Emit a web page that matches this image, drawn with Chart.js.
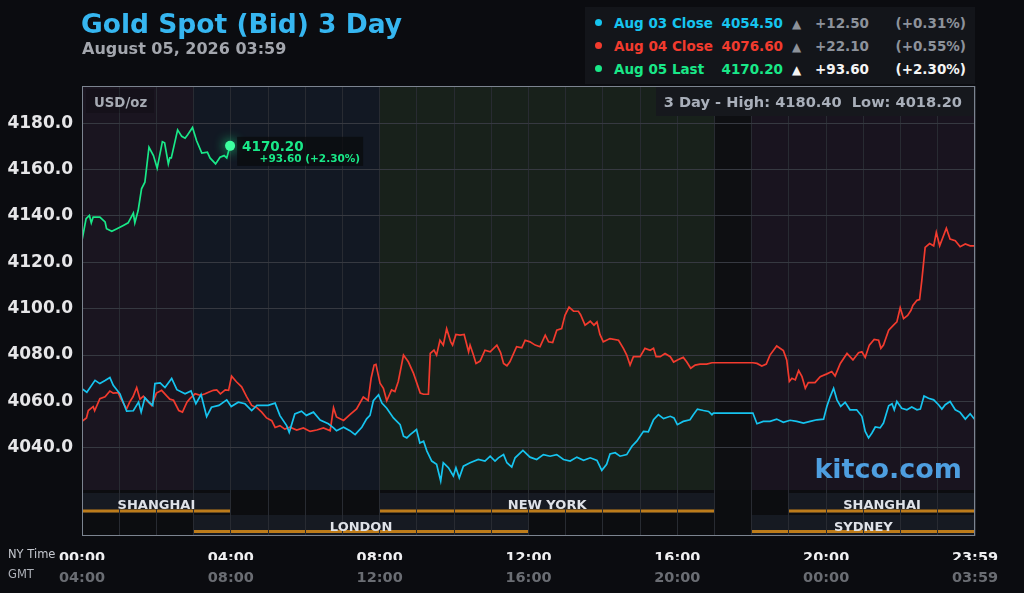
<!DOCTYPE html>
<html>
<head>
<meta charset="utf-8">
<script src="https://cdn.jsdelivr.net/npm/chart.js@4.4.1/dist/chart.umd.min.js"></script>
<style>
  html, body { margin: 0; padding: 0; background: #0b0c10; }
  body { width: 1024px; height: 593px; overflow: hidden; position: relative; font-family: "DejaVu Sans", sans-serif; }
  #chart { position: absolute; left: 0; top: 0; }
  .abs { position: absolute; white-space: nowrap; line-height: 1; }
  .title { left: 81px; top: 11px; font-size: 26.5px; font-weight: bold; color: #36b6f0; }
  .sub { left: 82px; top: 40.5px; font-size: 16px; font-weight: bold; color: #a3a6ad; }
  .legend { left: 585px; top: 7px; width: 390px; height: 77px; background: #13151a; }
  .row { font-size: 13.5px; font-weight: bold; }
  .dot { position: absolute; width: 7px; height: 7px; border-radius: 50%; }
  .axisname { font-size: 11.5px; color: #c5c8cf; left: 8px; }
</style>
</head>
<body>
<canvas id="chart" width="1024" height="593"></canvas>
<div class="abs title">Gold Spot (Bid) 3 Day</div>
<div class="abs sub">August 05, 2026 03:59</div>
<div class="abs legend"></div>
<div id="legendRows"></div>
<div class="abs axisname" style="top:549px">NY Time</div>
<div class="abs axisname" style="top:569px;color:#aeb1b8">GMT</div>

<script>
// ---- data ----
const seriesNames = ['Aug 03 Close', 'Aug 04 Close', 'Aug 05 Last'];
const seriesLast = ['4054.50', '4076.60', '4170.20'];
const seriesChange = ['+12.50', '+22.10', '+93.60'];
const seriesPct = ['(+0.31%)', '(+0.55%)', '(+2.30%)'];

const nyTickLabels = ['00:00', '04:00', '08:00', '12:00', '16:00', '20:00', '23:59'];
const gmtTickLabels = ['04:00', '08:00', '12:00', '16:00', '20:00', '00:00', '03:59'];
const yTicks = [4040, 4060, 4080, 4100, 4120, 4140, 4160, 4180];

const aug03Hours = [0, 0.13, 0.35, 0.48, 0.62, 0.75, 0.84, 1.02, 1.2, 1.38, 1.52, 1.59, 1.69, 1.8, 1.9, 1.96, 2.1, 2.23, 2.41, 2.55, 2.77, 2.93, 3.06, 3.2, 3.35, 3.48, 3.68, 3.89, 4.01, 4.2, 4.38, 4.56, 4.7, 4.87, 5.0, 5.19, 5.32, 5.5, 5.57, 5.72, 5.9, 6.03, 6.22, 6.4, 6.62, 6.76, 6.84, 7.03, 7.2, 7.34, 7.52, 7.65,
  7.74, 7.83, 7.97, 8.06, 8.19, 8.37, 8.55, 8.64, 8.73, 8.82, 8.99, 9.08, 9.18, 9.27, 9.4, 9.53, 9.64, 9.71, 9.85, 9.98, 10.05, 10.14, 10.25, 10.43, 10.65, 10.83, 10.97, 11.1, 11.19, 11.33, 11.42, 11.55, 11.64, 11.85, 12.04, 12.22, 12.4, 12.58, 12.76, 12.94, 13.12, 13.3, 13.48, 13.66, 13.84, 13.97, 14.1, 14.19, 14.33, 14.46, 14.64, 14.78, 14.91, 15.09, 15.22, 15.36, 15.49, 15.63,
  15.81, 15.91, 16.0, 16.16, 16.34, 16.43, 16.54, 16.7, 16.84, 16.93, 16.97, 18.03, 18.14, 18.31, 18.49, 18.67, 18.85, 19.03, 19.21, 19.39, 19.57, 19.75, 19.93, 20.02, 20.11, 20.2, 20.29, 20.39, 20.51, 20.64, 20.82, 20.96, 21.05, 21.14, 21.23, 21.32, 21.45, 21.54, 21.68, 21.77, 21.83, 21.9, 22.03, 22.17, 22.3, 22.44, 22.53, 22.63, 22.75, 22.89, 23.02, 23.11, 23.2, 23.33, 23.47, 23.6, 23.74, 23.87, 24];
const aug03Values = [4065.5, 4064, 4069.1, 4067.7, 4069, 4070.3, 4067, 4063.3, 4055.8, 4056, 4059.7, 4055.4, 4061.6, 4059.7, 4058.3, 4067.7, 4068, 4066, 4069.9, 4065.1, 4063.3, 4064.5, 4059, 4063, 4053.5, 4057.5, 4058.3, 4060.7, 4057.8, 4059.7, 4059, 4056.1, 4058.3, 4058.3, 4058.3, 4059.3, 4053.9, 4049.6, 4046.7, 4054.6, 4055.8, 4054, 4055.4, 4052, 4050.4, 4048.6, 4047.4, 4048.9, 4047.4, 4045.7, 4048.9, 4052.5,
  4054, 4060.3, 4062.9, 4059.3, 4057.1, 4052.9, 4050, 4045, 4044.3, 4045.7, 4047.9, 4042.1, 4042.9, 4038.6, 4034.3, 4032.9, 4025.7, 4033.6, 4031.4, 4027.9, 4031.4, 4027.1, 4032.1, 4033.6, 4035, 4034.3, 4036.4, 4034.3, 4035.7, 4037.1, 4033.6, 4031.7, 4035.7, 4038.9, 4036, 4035, 4037.1, 4036.4, 4037.1, 4035, 4034.3, 4036, 4034.6, 4035.7, 4034.6, 4030.3, 4032.9, 4037.4, 4037.9, 4036.4, 4037.1, 4040.7, 4042.9, 4047.1, 4046.9, 4052.1, 4054.3, 4052.6,
  4053.6, 4052.9, 4050, 4051.4, 4052.1, 4054.3, 4056.7, 4056.1, 4055.7, 4054.3, 4055, 4055, 4050.4, 4051.4, 4051.4, 4052.4, 4051, 4051.9, 4051.4, 4050.7, 4051.4, 4052.1, 4052.4, 4057.9, 4062.1, 4065.7, 4060.7, 4057.9, 4059.6, 4056.4, 4056.4, 4053.6, 4047.1, 4044.3, 4046.4, 4049, 4048.6, 4050.7, 4058.1, 4059, 4056.4, 4060, 4057.1, 4056.4, 4057.6, 4056.4, 4056.7, 4062.4, 4061.4, 4060.7, 4058.6, 4056.7, 4058.6, 4060, 4056.4, 4055.3, 4052.4, 4054.7, 4052.1];

const aug04Hours = [0, 0.12, 0.17, 0.3, 0.34, 0.48, 0.62, 0.75, 0.84, 0.97, 1.05, 1.2, 1.28, 1.37, 1.47, 1.56, 1.65, 1.74, 1.87, 2.0, 2.14, 2.27, 2.36, 2.46, 2.6, 2.7, 2.82, 2.9, 3.04, 3.18, 3.31, 3.4, 3.53, 3.62, 3.72, 3.85, 3.94, 4.02, 4.15, 4.29, 4.42, 4.56, 4.7, 4.83, 4.96, 5.1, 5.19, 5.32, 5.45, 5.59, 5.77, 5.95, 6.13, 6.31, 6.49, 6.67, 6.76, 6.84, 7.03, 7.2, 7.38, 7.56, 7.69, 7.77, 7.85, 7.9,
  8.01, 8.1, 8.19, 8.32, 8.41, 8.5, 8.64, 8.77, 8.91, 9.09, 9.18, 9.31, 9.36, 9.46, 9.53, 9.62, 9.71, 9.8, 9.91, 9.96, 10.05, 10.16, 10.27, 10.39, 10.43, 10.52, 10.59, 10.7, 10.83, 10.97, 11.15, 11.25, 11.33, 11.42, 11.5, 11.68, 11.82, 11.91, 12.04, 12.18, 12.31, 12.45, 12.54, 12.65, 12.76, 12.89, 12.98, 13.09, 13.21, 13.34, 13.4, 13.52, 13.66, 13.76, 13.84, 13.92, 14.01, 14.19, 14.42, 14.55, 14.64, 14.73, 14.82, 15.0, 15.13, 15.27, 15.36, 15.43, 15.54, 15.67, 15.81,
  15.9, 16.03, 16.16, 16.25, 16.36, 16.48, 16.61, 16.79, 16.93, 18.03, 18.14, 18.27, 18.39, 18.49, 18.67, 18.85, 18.94, 19.01, 19.08, 19.17, 19.26, 19.35, 19.44, 19.52, 19.7, 19.84, 20.02, 20.15, 20.24, 20.38, 20.56, 20.72, 20.87, 20.96, 21.05, 21.16, 21.29, 21.41, 21.47, 21.54, 21.68, 21.81, 21.9, 21.99, 22.08, 22.19, 22.28, 22.33, 22.44, 22.51, 22.57, 22.66, 22.78, 22.89, 22.96, 23.05, 23.23, 23.33, 23.47, 23.6, 23.74, 23.87, 24];
const aug04Values = [4051.4, 4052.9, 4056.1, 4057.8, 4056, 4061.2, 4062, 4064.5, 4063.6, 4063.8, 4061, 4056.8, 4059.7, 4062, 4066, 4061, 4062.3, 4060.4, 4058.3, 4063.6, 4064.8, 4062.5, 4061, 4060.5, 4056.1, 4055.4, 4059.7, 4061.2, 4063.3, 4062.6, 4063.3, 4064, 4064.8, 4065, 4063.3, 4065, 4064.8, 4070.9, 4068.5, 4066.3, 4062.2, 4058.3, 4057.3, 4055.4, 4052.9, 4051.7, 4048.8, 4049.6, 4048.1, 4048.9, 4047.7, 4048.6, 4047.1, 4047.7, 4048.6, 4047.4, 4057.3, 4053.3, 4051.8, 4054.3, 4056.8, 4061.9, 4060.4, 4070, 4075.7, 4076,
  4067.9, 4065.7, 4060.3, 4065, 4064.3, 4068.6, 4080, 4077.1, 4072.1, 4063.6, 4063.1, 4063.1, 4080.7, 4082.1, 4080, 4086.4, 4084.3, 4091.4, 4085.7, 4084.3, 4088.9, 4088.6, 4088.9, 4081.4, 4084.3, 4080, 4076.4, 4077.4, 4082.1, 4081.4, 4084.3, 4081.1, 4076.4, 4075.4, 4077.1, 4083.6, 4083.1, 4086.4, 4085.7, 4084.3, 4083.6, 4088.6, 4085.7, 4085.4, 4090.7, 4091.4, 4097.1, 4100.7, 4098.9, 4098.9, 4097.4, 4092.9, 4094.6, 4092.9, 4094.3, 4088.9, 4085.7, 4087.1, 4086.4, 4082.9, 4080, 4075.7, 4079.3, 4079.3, 4082.9, 4082.1, 4082.9, 4079.3, 4079.3, 4080.7, 4079.3,
  4077, 4078.1, 4079, 4077.1, 4074.3, 4075.7, 4076.1, 4076.1, 4076.7, 4076.7, 4076.4, 4075.3, 4076.1, 4080, 4083.9, 4081.9, 4077.9, 4068.6, 4070, 4069.3, 4073.3, 4070.7, 4065.7, 4068.1, 4068.1, 4070.7, 4071.9, 4072.9, 4071, 4076.4, 4080.7, 4077.9, 4081, 4081.4, 4079, 4084.3, 4086.7, 4086.4, 4082.9, 4084.3, 4090.7, 4092.9, 4094.3, 4100.4, 4095.7, 4097.1, 4099.3, 4101.4, 4103.6, 4103.9, 4112.1, 4126.4, 4128.1, 4127.1, 4132.9, 4127.1, 4134.7, 4130, 4129.3, 4126.7, 4127.9, 4127.1, 4127.1];

const aug05Hours = [0, 0.11, 0.2, 0.25, 0.3, 0.48, 0.62, 0.66, 0.8, 0.94, 1.11, 1.24, 1.38, 1.42, 1.51, 1.6, 1.69, 1.8, 1.92, 2.02, 2.16, 2.22, 2.32, 2.36, 2.4, 2.57, 2.68, 2.77, 2.84, 2.97, 3.08, 3.22, 3.37, 3.44, 3.59, 3.71, 3.82, 3.89, 3.98];
const aug05Values = [4129.5, 4138.8, 4140.2, 4137, 4139.5, 4139.5, 4137.4, 4134.5, 4133.4, 4134.5, 4135.9, 4137, 4141.2, 4137, 4142.4, 4151.7, 4154.5, 4169.6, 4166, 4160.6, 4172, 4171.5, 4162.4, 4165, 4165, 4177.1, 4174.3, 4173.5, 4175, 4178.1, 4172.4, 4167.1, 4167.5, 4165, 4162.4, 4165.3, 4166, 4165, 4170.2];

// trading sessions (NY hours) and background zones
const sessionNames = ['SHANGHAI', 'NEW YORK', 'SHANGHAI', 'LONDON', 'SYDNEY'];
const sessionStart = [0, 8, 19, 3, 18];
const sessionEnd = [4, 17, 24, 12, 24];
const sessionRow = [0, 0, 0, 1, 1];
const zoneStart = [0, 3, 8, 17, 18];
const zoneEnd = [3, 8, 17, 18, 24];

const threeDayHigh = '4180.40';
const threeDayLow = '4018.20';

// ---- styles ----
const lineColors = ['#16c4ef', '#f23b2e', '#19e888'];
const zoneColors = ['#1a1520', '#121823', '#18211b', '#0e0f12', '#19141f'];

// header legend
const legendRows = document.getElementById('legendRows');
seriesNames.forEach((name, i) => {
  const top = 16.5 + i * 23;
  const soft = i < 2 ? '#8d929b' : '#f4f4f4';
  legendRows.insertAdjacentHTML('beforeend',
    `<div class="dot" style="left:595px;top:${top + 2.5}px;background:${lineColors[i]}"></div>` +
    `<div class="abs row" style="left:614px;top:${top}px;color:${lineColors[i]}">${name}</div>` +
    `<div class="abs row" style="right:241px;top:${top}px;color:${lineColors[i]}">${seriesLast[i]}</div>` +
    `<div class="abs row" style="left:792px;top:${top + 1}px;font-size:12px;color:${soft}">▲</div>` +
    `<div class="abs row" style="right:155px;top:${top}px;color:${soft}">${seriesChange[i]}</div>` +
    `<div class="abs row" style="right:58px;top:${top}px;color:${soft}">${seriesPct[i]}</div>`);
});

const pairs = (hs, vs) => hs.map((h, i) => ({ x: h, y: vs[i] }));

const backdrop = {
  id: 'backdrop',
  beforeDraw(chart) {
    const { ctx, chartArea: a, scales: { x } } = chart;
    const bandTop = a.bottom - 46;
    ctx.save();
    zoneStart.forEach((s, i) => {
      const x0 = x.getPixelForValue(s), x1 = x.getPixelForValue(zoneEnd[i]);
      ctx.fillStyle = zoneColors[i];
      ctx.fillRect(x0, a.top, x1 - x0, bandTop - a.top);
    });
    ctx.fillStyle = '#0c0d10';
    ctx.fillRect(a.left, bandTop, a.width, a.bottom - bandTop);
    sessionNames.forEach((n, i) => {
      const x0 = x.getPixelForValue(sessionStart[i]), x1 = x.getPixelForValue(sessionEnd[i]);
      const top = sessionRow[i] === 0 ? a.bottom - 43 : a.bottom - 21;
      ctx.fillStyle = '#161a22';
      ctx.fillRect(x0, top, x1 - x0, sessionRow[i] === 0 ? 20 : 21);
      ctx.fillStyle = '#bd7c1b';
      ctx.fillRect(x0, sessionRow[i] === 0 ? a.bottom - 26.5 : a.bottom - 6, x1 - x0, 3);
    });
    ctx.restore();
  },
  afterDraw(chart) {
    const { ctx, chartArea: a, scales: { x } } = chart;
    ctx.save();
    ctx.strokeStyle = '#7c8490';
    ctx.lineWidth = 1;
    ctx.strokeRect(a.left + 0.5, a.top + 0.5, a.width - 1, a.height - 1);

    // session names
    ctx.font = 'bold 13px "DejaVu Sans"';
    ctx.fillStyle = '#dfe2e8';
    ctx.textAlign = 'center';
    ctx.textBaseline = 'alphabetic';
    sessionNames.forEach((n, i) => {
      const cx = (x.getPixelForValue(sessionStart[i]) + x.getPixelForValue(sessionEnd[i])) / 2;
      ctx.fillText(n, cx, sessionRow[i] === 0 ? a.bottom - 27 : a.bottom - 5.5);
    });

    // unit tag
    ctx.fillStyle = 'rgba(0,0,0,0.18)';
    ctx.fillRect(a.left + 4, a.top + 3, 68, 24);
    ctx.font = 'bold 13.3px "DejaVu Sans"';
    ctx.fillStyle = '#a6aab3';
    ctx.textAlign = 'left';
    ctx.fillText('USD/oz', a.left + 12, a.top + 20.7);

    // high / low box
    ctx.fillStyle = '#16181d';
    ctx.fillRect(a.right - 319, a.top + 1, 318, 29);
    ctx.font = 'bold 14.6px "DejaVu Sans"';
    ctx.fillStyle = '#a9afba';
    ctx.textAlign = 'right';
    ctx.fillText('3 Day - High: ' + threeDayHigh + '  Low: ' + threeDayLow, a.right - 13, a.top + 21.3);

    // watermark
    ctx.font = 'bold 27px "DejaVu Sans"';
    ctx.fillStyle = '#4e9fe0';
    ctx.fillText('kitco.com', a.right - 13, a.bottom - 58);

    // last point marker and label
    const meta = chart.getDatasetMeta(2);
    const pt = meta.data[meta.data.length - 1];
    ctx.shadowColor = '#19e888';
    ctx.shadowBlur = 12;
    ctx.fillStyle = '#3dff9f';
    ctx.beginPath();
    ctx.arc(pt.x, pt.y, 5, 0, Math.PI * 2);
    ctx.fill();
    ctx.shadowBlur = 0;
    ctx.fillStyle = 'rgba(10,11,14,0.75)';
    ctx.fillRect(pt.x + 7, pt.y - 9, 126, 29);
    ctx.textAlign = 'left';
    ctx.fillStyle = '#19e888';
    ctx.font = 'bold 13.5px "DejaVu Sans"';
    ctx.fillText(seriesLast[2], pt.x + 12, pt.y + 5);
    ctx.font = 'bold 10.5px "DejaVu Sans"';
    ctx.textAlign = 'right';
    ctx.fillText(seriesChange[2] + ' ' + seriesPct[2], pt.x + 130, pt.y + 16);
    ctx.restore();
  }
};

new Chart(document.getElementById('chart'), {
  type: 'line',
  data: {
    datasets: [
      { label: seriesNames[0], data: pairs(aug03Hours, aug03Values), borderColor: lineColors[0] },
      { label: seriesNames[1], data: pairs(aug04Hours, aug04Values), borderColor: lineColors[1] },
      { label: seriesNames[2], data: pairs(aug05Hours, aug05Values), borderColor: lineColors[2] }
    ]
  },
  options: {
    responsive: false,
    animation: false,
    layout: { padding: { top: 86, right: 49, bottom: 0, left: 0 } },
    elements: {
      line: { borderWidth: 1.7, tension: 0 },
      point: { radius: 0 }
    },
    plugins: { legend: { display: false }, tooltip: { enabled: false } },
    scales: {
      x: {
        type: 'linear', min: 0, max: 24,
        grid: { color: '#282b32', drawTicks: false },
        border: { display: false },
        afterFit: s => { s.height = 24; },
        ticks: {
          stepSize: 1, autoSkip: false, maxRotation: 0, padding: 14,
          color: '#f0f0f2', font: { family: 'DejaVu Sans', size: 14.5, weight: 'bold' },
          callback: v => (v % 4 === 0 ? nyTickLabels[v / 4] : '')
        }
      },
      x2: {
        type: 'linear', position: 'bottom', min: 0, max: 24,
        grid: { display: false, drawTicks: false },
        border: { display: false },
        afterFit: s => { s.height = 33; },
        ticks: {
          stepSize: 1, autoSkip: false, maxRotation: 0, padding: 10,
          color: '#6a6d73', font: { family: 'DejaVu Sans', size: 14.5, weight: 'bold' },
          callback: v => (v % 4 === 0 ? gmtTickLabels[v / 4] : '')
        }
      },
      y: {
        min: 4002, max: 4196,
        grid: { color: '#363941', drawTicks: false },
        border: { display: false },
        afterFit: s => { s.width = 82; },
        afterBuildTicks: s => { s.ticks = yTicks.map(v => ({ value: v })); },
        ticks: {
          padding: 9, color: '#e6e6e8',
          font: { family: 'DejaVu Sans', size: 17, weight: 'bold' },
          callback: v => v.toFixed(1)
        }
      }
    }
  },
  plugins: [backdrop]
});
</script>
</body>
</html>
